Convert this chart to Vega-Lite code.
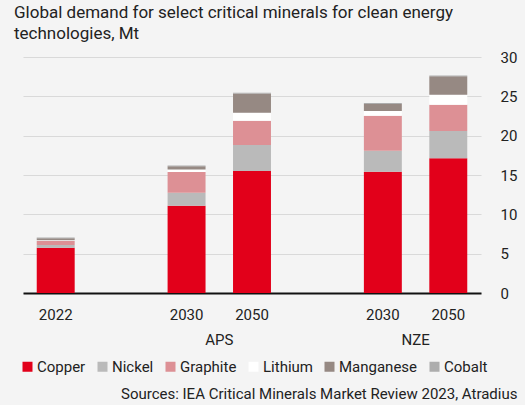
{
  "$schema": "https://vega.github.io/schema/vega-lite/v6.json",
  "width": 458,
  "height": 236,
  "autosize": {"type": "none"},
  "padding": {"left": 23, "top": 57, "right": 44, "bottom": 112},
  "background": "#f4f4f4",
  "config": {
    "view": {"stroke": null},
    "font": "Roboto",
    "text": {"font": "Roboto"}
  },
  "title": {
    "text": ["Global demand for select critical minerals for clean energy", "technologies, Mt"],
    "anchor": "start",
    "frame": "group",
    "dx": -9,
    "offset": 7,
    "fontSize": 17,
    "fontWeight": "normal",
    "color": "#222222",
    "lineHeight": 21,
    "font": "Roboto"
  },
  "layer": [
    {
      "data": {
        "values": [
          {"cat": "2022", "mineral": "Copper", "ord": 1, "value": 5.76},
          {"cat": "2022", "mineral": "Nickel", "ord": 2, "value": 0.35},
          {"cat": "2022", "mineral": "Graphite", "ord": 3, "value": 0.5},
          {"cat": "2022", "mineral": "Lithium", "ord": 4, "value": 0.1},
          {"cat": "2022", "mineral": "Manganese", "ord": 5, "value": 0.25},
          {"cat": "2022", "mineral": "Cobalt", "ord": 6, "value": 0.1},
          {"cat": "APS 2030", "mineral": "Copper", "ord": 1, "value": 11.1},
          {"cat": "APS 2030", "mineral": "Nickel", "ord": 2, "value": 1.65},
          {"cat": "APS 2030", "mineral": "Graphite", "ord": 3, "value": 2.63},
          {"cat": "APS 2030", "mineral": "Lithium", "ord": 4, "value": 0.32},
          {"cat": "APS 2030", "mineral": "Manganese", "ord": 5, "value": 0.42},
          {"cat": "APS 2030", "mineral": "Cobalt", "ord": 6, "value": 0.1},
          {"cat": "APS 2050", "mineral": "Copper", "ord": 1, "value": 15.5},
          {"cat": "APS 2050", "mineral": "Nickel", "ord": 2, "value": 3.3},
          {"cat": "APS 2050", "mineral": "Graphite", "ord": 3, "value": 3.1},
          {"cat": "APS 2050", "mineral": "Lithium", "ord": 4, "value": 1.0},
          {"cat": "APS 2050", "mineral": "Manganese", "ord": 5, "value": 2.45},
          {"cat": "APS 2050", "mineral": "Cobalt", "ord": 6, "value": 0.12},
          {"cat": "NZE 2030", "mineral": "Copper", "ord": 1, "value": 15.42},
          {"cat": "NZE 2030", "mineral": "Nickel", "ord": 2, "value": 2.67},
          {"cat": "NZE 2030", "mineral": "Graphite", "ord": 3, "value": 4.45},
          {"cat": "NZE 2030", "mineral": "Lithium", "ord": 4, "value": 0.59},
          {"cat": "NZE 2030", "mineral": "Manganese", "ord": 5, "value": 0.9},
          {"cat": "NZE 2030", "mineral": "Cobalt", "ord": 6, "value": 0.12},
          {"cat": "NZE 2050", "mineral": "Copper", "ord": 1, "value": 17.12},
          {"cat": "NZE 2050", "mineral": "Nickel", "ord": 2, "value": 3.47},
          {"cat": "NZE 2050", "mineral": "Graphite", "ord": 3, "value": 3.35},
          {"cat": "NZE 2050", "mineral": "Lithium", "ord": 4, "value": 1.26},
          {"cat": "NZE 2050", "mineral": "Manganese", "ord": 5, "value": 2.35},
          {"cat": "NZE 2050", "mineral": "Cobalt", "ord": 6, "value": 0.1}
        ]
      },
      "mark": {"type": "bar"},
      "encoding": {
        "x": {
          "field": "cat",
          "type": "nominal",
          "sort": null,
          "scale": {
            "domain": ["2022", "gap1", "APS 2030", "APS 2050", "gap2", "NZE 2030", "NZE 2050"],
            "paddingInner": 0.42,
            "paddingOuter": 0.21
          },
          "axis": {
            "title": "Sources: IEA Critical Minerals Market Review 2023, Atradius",
            "titleFontSize": 15,
            "titleFontWeight": "normal",
            "titleColor": "#222222",
            "titleAnchor": "end",
            "titleAlign": "right",
            "titleBaseline": "alphabetic",
            "titleX": 494,
            "titleY": 105,
            "labelExpr": "datum.value == '2022' ? '2022' : (indexof(datum.value, ' ') > 0 ? split(datum.value, ' ')[1] : '')",
            "labelAngle": 0,
            "labelFontSize": 15,
            "labelColor": "#222222",
            "labelPadding": 14,
            "ticks": false,
            "domainColor": "#111111",
            "domainWidth": 2
          }
        },
        "y": {
          "field": "value",
          "type": "quantitative",
          "stack": "zero",
          "scale": {"domain": [0, 30]},
          "axis": {
            "orient": "right",
            "title": null,
            "values": [0, 5, 10, 15, 20, 25, 30],
            "tickCount": 7,
            "labelOverlap": false,
            "labelFontSize": 15,
            "labelColor": "#222222",
            "labelPadding": 19,
            "labelAlign": "left",
            "ticks": false,
            "domain": false,
            "gridColor": "#d9d9d9",
            "gridWidth": 1
          }
        },
        "color": {
          "field": "mineral",
          "type": "nominal",
          "scale": {
            "domain": ["Copper", "Nickel", "Graphite", "Lithium", "Manganese", "Cobalt"],
            "range": ["#e2001a", "#bababa", "#dd9095", "#ffffff", "#968983", "#adadad"]
          },
          "legend": {
            "title": null,
            "orient": "none",
            "direction": "horizontal",
            "columns": 6,
            "legendX": -3,
            "legendY": 302,
            "symbolType": "square",
            "symbolSize": 100,
            "symbolStrokeWidth": 0,
            "labelFontSize": 15,
            "labelColor": "#222222",
            "labelOffset": 2,
            "columnPadding": 9,
            "padding": 0
          }
        },
        "order": {"field": "ord", "type": "quantitative"}
      }
    },
    {
      "data": {"values": [{"grp": "APS", "pos": "APS 2030"}, {"grp": "NZE", "pos": "NZE 2030"}]},
      "mark": {"type": "text", "dx": 32.7, "dy": 40, "baseline": "top", "align": "center", "fontSize": 15, "color": "#222222"},
      "encoding": {
        "x": {"field": "pos", "type": "nominal"},
        "y": {
          "datum": 0,
          "axis": {
            "orient": "right",
            "title": null,
            "values": [0, 5, 10, 15, 20, 25, 30],
            "tickCount": 7,
            "labelOverlap": false,
            "labelFontSize": 15,
            "labelColor": "#222222",
            "labelPadding": 19,
            "labelAlign": "left",
            "ticks": false,
            "domain": false,
            "gridColor": "#d9d9d9",
            "gridWidth": 1
          }
        },
        "text": {"field": "grp"}
      }
    }
  ]
}
